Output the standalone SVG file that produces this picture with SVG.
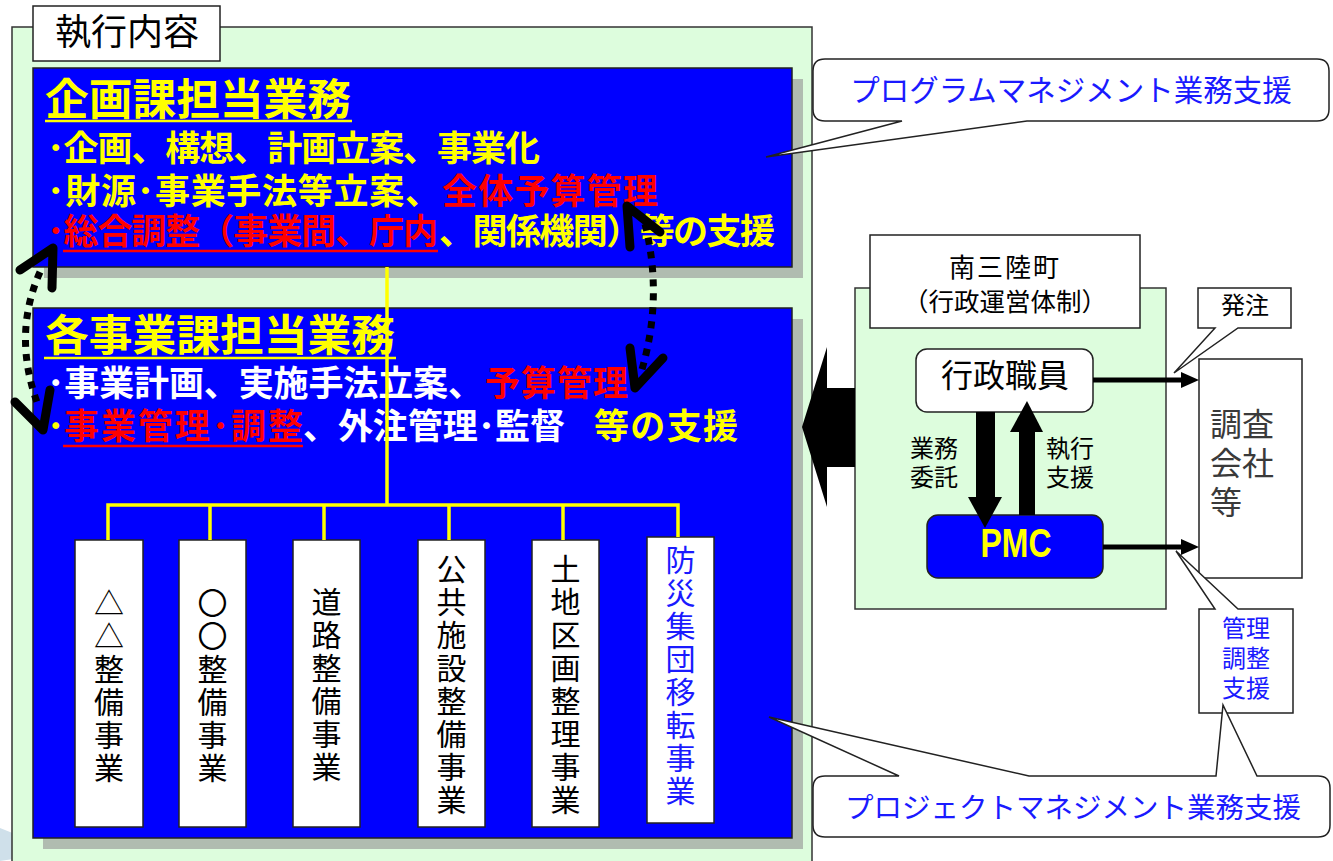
<svg xmlns="http://www.w3.org/2000/svg" width="1333" height="861" viewBox="0 0 1333 861">
<style>
.jp{font-family:"Noto Sans CJK JP","Noto Sans CJK SC",sans-serif}
.b{font-weight:bold}
.t34{font-size:35px}
.y{fill:#FFFF00}
.r{fill:#FF0000}
.w{fill:#FFFFFF}
.k{fill:#000000}
.bl{fill:#1a1aff}
.panel{fill:#DDFDDD;stroke:#333;stroke-width:1.5}
.blue{fill:#0000FF;stroke:#222;stroke-width:1.5}
.shadow{fill:#B0BCB0}
.wbox{fill:#FFFFFF;stroke:#222;stroke-width:1.5}
.yl{stroke:#FFFF00;stroke-width:3.5;fill:none}
.dot{stroke:#000;stroke-width:7;fill:none;stroke-dasharray:7 7}
.chev{stroke:#000;stroke-width:9;fill:none;stroke-linecap:round;stroke-linejoin:round}
.vt{font-size:30px;writing-mode:vertical-rl;letter-spacing:3px}
.call{fill:#FFFFFF;stroke:#222;stroke-width:1.5}
</style>

<!-- background decoration -->
<polygon points="0,828 60,852 0,861" fill="#cfe0ea"/>

<g id="panel-left">
  <rect class="panel" x="12" y="27" width="800" height="845"/>
</g>

<g id="label-shikko">
  <rect class="wbox" x="33" y="6" width="187" height="55"/>
  <text class="jp" x="127" y="45" font-size="36" text-anchor="middle">執行内容</text>
</g>

<g id="kikaku">
  <rect class="shadow" x="44" y="79" width="759" height="199"/>
  <rect class="blue" x="33" y="68" width="759" height="199"/>
  <text class="jp b y" x="45" y="115" font-size="43" textLength="306" lengthAdjust="spacingAndGlyphs">企画課担当業務</text>
  <line x1="45" y1="121" x2="352" y2="121" stroke="#FFFF00" stroke-width="2.5"/>
  <text class="jp b t34 y" x="47" y="161" textLength="493">･企画、構想、計画立案、事業化</text>
  <text class="jp b t34 y" x="47" y="204" textLength="393">･財源･事業手法等立案、</text>
  <text class="jp b t34 r" x="442" y="204" textLength="216">全体予算管理</text>
  <text class="jp b t34 r" x="47" y="244" textLength="391">･総合調整（事業間、庁内</text>
  <text class="jp b t34 y" x="439" y="244" textLength="336">、関係機関）等の支援</text>
  <line x1="63" y1="251" x2="438" y2="251" stroke="#FF0000" stroke-width="2.5"/>
</g>

<g id="kaku-jigyo">
  <rect class="shadow" x="43" y="319" width="760" height="530"/>
  <rect class="blue" x="33" y="308" width="759" height="530"/>
  <text class="jp b y" x="45" y="351" font-size="43" textLength="350" lengthAdjust="spacingAndGlyphs">各事業課担当業務</text>
  <line x1="44" y1="358" x2="396" y2="358" stroke="#FFFF00" stroke-width="2.5"/>
  <text class="jp b t34 w" x="47" y="396" textLength="436">･事業計画、実施手法立案、</text>
  <text class="jp b t34 r" x="485" y="396" textLength="143">予算管理</text>
  <text class="jp b t34 y" x="47" y="439">･</text>
  <text class="jp b t34 r" x="64" y="439" textLength="239">事業管理･調整</text>
  <text class="jp b t34 w" x="303" y="439" textLength="262">、外注管理･監督</text>
  <text class="jp b t34 y" x="594" y="439" textLength="144">等の支援</text>
  <line x1="63" y1="446" x2="303" y2="446" stroke="#FF0000" stroke-width="2.5"/>
</g>

<g id="box-1">
  <rect class="wbox" x="75" y="540" width="68" height="287"/>
  <text class="jp vt k" x="109" y="588">△△整備事業</text>
</g>
<g id="box-2">
  <rect class="wbox" x="179" y="540" width="67" height="287"/>
  <text class="jp vt k" x="212.5" y="588">〇〇整備事業</text>
</g>
<g id="box-3">
  <rect class="wbox" x="293" y="540" width="67" height="287"/>
  <text class="jp vt k" x="326.5" y="587">道路整備事業</text>
</g>
<g id="box-4">
  <rect class="wbox" x="418" y="540" width="67" height="287"/>
  <text class="jp vt k" x="451.5" y="554">公共施設整備事業</text>
</g>
<g id="box-5">
  <rect class="wbox" x="532" y="540" width="67" height="287"/>
  <text class="jp vt k" x="565.5" y="554">土地区画整理事業</text>
</g>
<g id="box-6">
  <rect class="wbox" x="647" y="537" width="67" height="286"/>
  <text class="jp vt bl" x="680.5" y="545">防災集団移転事業</text>
</g>

<g id="program-callout">
  <path class="call" d="M825,59 H1317 Q1329,59 1329,71 V109 Q1329,121 1317,121 H1027 L766,157 L902,121 H825 Q813,121 813,109 V71 Q813,59 825,59 Z"/>
  <text class="jp bl" x="1071" y="101" font-size="29.5" text-anchor="middle">プログラムマネジメント業務支援</text>
</g>

<g id="panel-right">
  <rect class="panel" x="855" y="288" width="311" height="321"/>
</g>

<g id="minamisanriku">
  <rect class="wbox" x="870" y="235" width="270" height="93"/>
  <text class="jp k" x="1005" y="277" font-size="26" text-anchor="middle" letter-spacing="2">南三陸町</text>
  <text class="jp k" x="1005" y="311" font-size="25.5" text-anchor="middle">（行政運営体制）</text>
</g>

<g id="gyosei">
  <rect class="wbox" x="916" y="349" width="177" height="63" rx="11"/>
  <text class="jp k" x="1005" y="387" font-size="32" text-anchor="middle">行政職員</text>
</g>

<g id="pmc">
  <rect x="927" y="515" width="176" height="63" rx="11" fill="#0000FF" stroke="#222" stroke-width="1.5"/>
  <text x="1016" y="557" font-family="Liberation Sans, Arial, sans-serif" font-weight="bold" font-size="41" fill="#FFFF00" text-anchor="middle" textLength="71" lengthAdjust="spacingAndGlyphs">PMC</text>
</g>

<g id="labels-mid">
  <text class="jp k" x="910" y="457" font-size="24">業務</text>
  <text class="jp k" x="910" y="486" font-size="24">委託</text>
  <text class="jp k" x="1046" y="457" font-size="24">執行</text>
  <text class="jp k" x="1046" y="486" font-size="24">支援</text>
</g>

<g id="chosa">
  <rect class="wbox" x="1199" y="359" width="103" height="219"/>
  <text class="jp" x="1210" y="436" font-size="32" fill="#3a3a3a">調査</text>
  <text class="jp" x="1210" y="475" font-size="32" fill="#3a3a3a">会社</text>
  <text class="jp" x="1210" y="514" font-size="32" fill="#3a3a3a">等</text>
</g>

<g id="hatchu">
  <path class="call" d="M1198,288 H1291 V328 H1238 L1174,373 L1215,328 H1198 Z"/>
  <text class="jp k" x="1245" y="314" font-size="24" text-anchor="middle">発注</text>
</g>

<g id="kanri">
  <path class="call" d="M1199,609 H1215 L1176,551 L1238,609 H1293 V713 H1199 Z"/>
  <text class="jp bl" x="1246" y="637" font-size="24" text-anchor="middle">管理</text>
  <text class="jp bl" x="1246" y="667" font-size="24" text-anchor="middle">調整</text>
  <text class="jp bl" x="1246" y="697" font-size="24" text-anchor="middle">支援</text>
</g>

<g id="project-callout">
  <path class="call" d="M825,776 H899 L769,717 L1029,776 H1216 L1223,705 L1257,776 H1318 Q1330,776 1330,788 V825 Q1330,837 1318,837 H825 Q813,837 813,825 V788 Q813,776 825,776 Z"/>
  <text class="jp bl" x="1073" y="818" font-size="28.5" text-anchor="middle">プロジェクトマネジメント業務支援</text>
</g>

<g id="connectors">
  <polyline class="yl" points="387,267 387,505"/>
  <polyline class="yl" points="108,540 108,505 678,505 678,537"/>
  <line class="yl" x1="210" y1="505" x2="210" y2="540"/>
  <line class="yl" x1="324" y1="505" x2="324" y2="540"/>
  <line class="yl" x1="449" y1="505" x2="449" y2="540"/>
  <line class="yl" x1="563" y1="505" x2="563" y2="540"/>
  <!-- dotted bidirectional arrows -->
  <path class="dot" d="M40,272 Q12,335 38,405"/>
  <polyline class="chev" points="20,270 53,248 52,288"/>
  <polyline class="chev" points="15,402 43,430 50,390"/>
  <path class="dot" d="M645,224 Q664,300 640,376"/>
  <polyline class="chev" points="630,247 627,206 660,232"/>
  <polyline class="chev" points="630,348 635,388 663,358"/>
  <!-- big left arrow -->
  <polygon points="802,427 827,347 827,388 855,388 855,467 827,467 827,507" fill="#000"/>
  <!-- 業務委託 (down) and 執行支援 (up) -->
  <rect x="976" y="412" width="19" height="87" fill="#000"/>
  <polygon points="968,497 1002,497 985,528" fill="#000"/>
  <rect x="1019" y="430" width="16" height="85" fill="#000"/>
  <polygon points="1010,432 1043,432 1027,401" fill="#000"/>
  <!-- to 調査会社等 -->
  <line x1="1093" y1="380" x2="1184" y2="380" stroke="#000" stroke-width="5"/>
  <polygon points="1181,372 1199,380 1181,388" fill="#000"/>
  <line x1="1103" y1="547" x2="1184" y2="547" stroke="#000" stroke-width="5"/>
  <polygon points="1181,539 1199,547 1181,555" fill="#000"/>
</g>
</svg>
